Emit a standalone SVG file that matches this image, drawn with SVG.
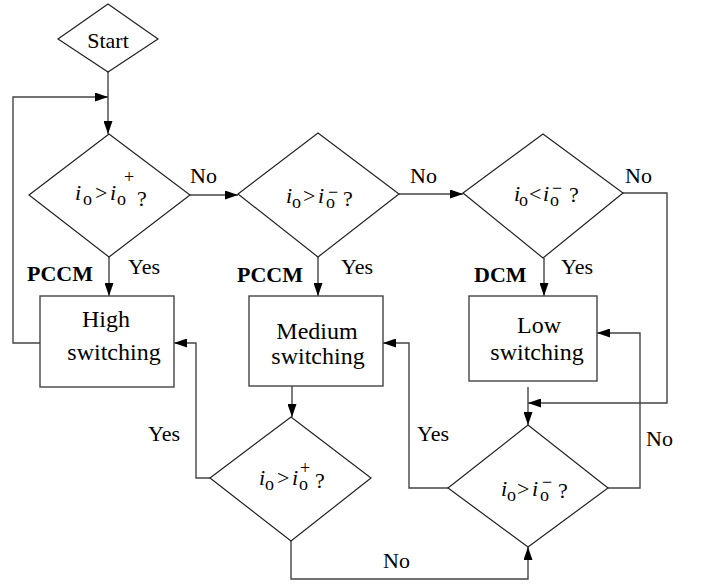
<svg xmlns="http://www.w3.org/2000/svg" width="701" height="585" viewBox="0 0 701 585" font-family="'Times New Roman', 'Liberation Serif', 'DejaVu Serif', serif">
<defs>
<marker id="ah" viewBox="0 0 13 9" refX="13" refY="4.5" markerWidth="13" markerHeight="9" markerUnits="userSpaceOnUse" orient="auto">
<path d="M0,0 L13,4.5 L0,9 Z" fill="#000"/>
</marker>
<style>
.shape{fill:#fff;stroke:#222;stroke-width:1.2}
.box{fill:#fff;stroke:#444;stroke-width:1.4}
.conn{fill:none;stroke:#444;stroke-width:1.4;marker-end:url(#ah)}
text{font-family:'Times New Roman','Liberation Serif','DejaVu Serif',serif;fill:#000}
.lbl{font-size:22px}
.bold{font-size:22px;font-weight:bold}
.bt{font-size:24px;text-anchor:middle}
.m{font-size:22px}
.it{font-style:italic}
.sub{font-size:18px}
</style>
</defs>
<rect width="701" height="585" fill="#fff"/>

<g id="connectors">
<path class="conn" d="M108,72 V134"/>
<path class="conn" d="M40,343 H13 V97 H108"/>
<path class="conn" d="M109,257 V296"/>
<path class="conn" d="M190,195 H238"/>
<path class="conn" d="M318,257 V296"/>
<path class="conn" d="M399,194 H463"/>
<path class="conn" d="M544,258 V296"/>
<path class="conn" d="M623,193 H667 V403 H528"/>
<path class="conn" d="M292,386 V417"/>
<path class="conn" d="M210,478 H196 V343 H174"/>
<path class="conn" d="M291,541 V579 H528 V547"/>
<path class="conn" d="M528,387 V425"/>
<path class="conn" d="M448,488 H409 V343 H383"/>
<path class="conn" d="M608,488 H640 V333 H597"/>
<text class="lbl" x="190" y="183">No</text>
<text class="lbl" x="410" y="183">No</text>
<text class="lbl" x="625" y="183">No</text>
<text class="lbl" x="128" y="274">Yes</text>
<text class="bold" x="27" y="281">PCCM</text>
<text class="lbl" x="341" y="274">Yes</text>
<text class="bold" x="237" y="282">PCCM</text>
<text class="lbl" x="561" y="274">Yes</text>
<text class="bold" x="474" y="282">DCM</text>
<text class="lbl" x="148" y="441">Yes</text>
<text class="lbl" x="383" y="568">No</text>
<text class="lbl" x="417" y="441">Yes</text>
<text class="lbl" x="646" y="446">No</text>
</g>

<g id="start">
<polygon class="shape" points="58,39 108,4 158,39 108,72"/>
<text class="bt" x="108" y="48" style="font-size:22px">Start</text>
</g>

<g id="decision1">
<polygon class="shape" points="29,195 109,134 190,195 109,257"/>
<text class="m"><tspan class="it" x="75" y="200">i</tspan><tspan class="sub" x="83" y="205">o</tspan><tspan x="95" y="200">&gt;</tspan><tspan class="it" x="110" y="200">i</tspan><tspan class="sub" x="117" y="205">o</tspan><tspan class="sub" x="124" y="183">+</tspan><tspan x="137" y="206">?</tspan></text>
</g>

<g id="decision2">
<polygon class="shape" points="238,194 318,133 399,194 318,257"/>
<text class="m"><tspan class="it" x="286" y="203">i</tspan><tspan class="sub" x="292" y="208">o</tspan><tspan x="303" y="203">&gt;</tspan><tspan class="it" x="318" y="203">i</tspan><tspan class="sub" x="326" y="208">o</tspan><tspan class="sub" x="328" y="198">−</tspan><tspan x="343" y="206">?</tspan></text>
</g>

<g id="decision3">
<polygon class="shape" points="463,193 543,134 623,193 543,258"/>
<text class="m"><tspan class="it" x="514" y="201">i</tspan><tspan class="sub" x="519" y="206">o</tspan><tspan x="529" y="201">&lt;</tspan><tspan class="it" x="543" y="201">i</tspan><tspan class="sub" x="550" y="206">o</tspan><tspan class="sub" x="552" y="194">−</tspan><tspan x="569" y="202">?</tspan></text>
</g>

<g id="high">
<rect class="box" x="40" y="296" width="134" height="91"/>
<text class="bt" x="106" y="327">High</text>
<text class="bt" x="114" y="360">switching</text>
</g>

<g id="medium">
<rect class="box" x="249" y="296" width="134" height="90"/>
<text class="bt" x="317" y="339">Medium</text>
<text class="bt" x="318" y="364">switching</text>
</g>

<g id="low">
<rect class="box" x="469" y="296" width="128" height="85"/>
<text class="bt" x="539" y="333">Low</text>
<text class="bt" x="537" y="360">switching</text>
</g>

<g id="decision4">
<polygon class="shape" points="210,478 291,417 371,478 291,541"/>
<text class="m"><tspan class="it" x="259" y="485">i</tspan><tspan class="sub" x="265" y="490">o</tspan><tspan x="277" y="485">&gt;</tspan><tspan class="it" x="292" y="485">i</tspan><tspan class="sub" x="299" y="490">o</tspan><tspan class="sub" x="300" y="474">+</tspan><tspan x="315" y="488">?</tspan></text>
</g>

<g id="decision5">
<polygon class="shape" points="448,488 528,425 608,488 528,547"/>
<text class="m"><tspan class="it" x="501" y="496">i</tspan><tspan class="sub" x="507" y="501">o</tspan><tspan x="517" y="496">&gt;</tspan><tspan class="it" x="532" y="496">i</tspan><tspan class="sub" x="540" y="501">o</tspan><tspan class="sub" x="542" y="488">−</tspan><tspan x="558" y="498">?</tspan></text>
</g>
</svg>
